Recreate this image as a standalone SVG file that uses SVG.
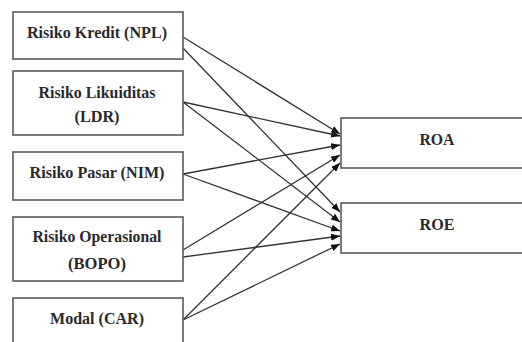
<svg xmlns="http://www.w3.org/2000/svg" width="522" height="342" viewBox="0 0 522 342">
<style>
.box{fill:#fff;stroke:#5a5a5a;stroke-width:1.6}
.t{font-weight:bold;font-size:17px;fill:#2a2a2a;text-anchor:middle}
.c{stroke:#333;stroke-width:1.3;fill:none;marker-end:url(#ah)}
</style>
<defs>
<marker id="ah" markerUnits="userSpaceOnUse" markerWidth="9" markerHeight="7" refX="9" refY="3.5" orient="auto">
<path d="M0,0 L9,3.5 L0,7 Z" fill="#111"/>
</marker>
</defs>
<rect width="522" height="342" fill="#fff"/>
<g id="connectors">
<line class="c" x1="183" y1="37" x2="340" y2="134"/>
<line class="c" x1="183" y1="48" x2="340" y2="212"/>
<line class="c" x1="183" y1="102" x2="340" y2="136"/>
<line class="c" x1="183" y1="102" x2="340" y2="222"/>
<line class="c" x1="183" y1="174" x2="340" y2="145"/>
<line class="c" x1="183" y1="174" x2="340" y2="231"/>
<line class="c" x1="183" y1="250" x2="340" y2="155"/>
<line class="c" x1="183" y1="257" x2="340" y2="236"/>
<line class="c" x1="183" y1="320" x2="340" y2="163"/>
<line class="c" x1="183" y1="320" x2="340" y2="244"/>
</g>
<g font-family="Liberation Serif, Times New Roman, serif">
<g id="npl">
<rect class="box" x="13" y="12" width="170" height="47"/>
<text class="t" x="97" y="38" textLength="140" lengthAdjust="spacingAndGlyphs">Risiko Kredit (NPL)</text>
</g>
<g id="ldr">
<rect class="box" x="13" y="71" width="170" height="64"/>
<text class="t" x="97" y="98" textLength="117" lengthAdjust="spacingAndGlyphs">Risiko Likuiditas</text>
<text class="t" x="97" y="122" textLength="45" lengthAdjust="spacingAndGlyphs">(LDR)</text>
</g>
<g id="nim">
<rect class="box" x="13" y="152" width="170" height="48"/>
<text class="t" x="97" y="178" textLength="135" lengthAdjust="spacingAndGlyphs">Risiko Pasar (NIM)</text>
</g>
<g id="bopo">
<rect class="box" x="13" y="217" width="170" height="64"/>
<text class="t" x="97" y="242" textLength="129" lengthAdjust="spacingAndGlyphs">Risiko Operasional</text>
<text class="t" x="97" y="269" textLength="58" lengthAdjust="spacingAndGlyphs">(BOPO)</text>
</g>
<g id="car">
<rect class="box" x="13" y="298" width="170" height="60"/>
<text class="t" x="97" y="324" textLength="94" lengthAdjust="spacingAndGlyphs">Modal (CAR)</text>
</g>
<g id="roa">
<rect class="box" x="341" y="118" width="200" height="50"/>
<text class="t" x="437" y="145" textLength="35" lengthAdjust="spacingAndGlyphs">ROA</text>
</g>
<g id="roe">
<rect class="box" x="341" y="203" width="200" height="50"/>
<text class="t" x="437" y="230" textLength="35" lengthAdjust="spacingAndGlyphs">ROE</text>
</g>
</g>
</svg>
